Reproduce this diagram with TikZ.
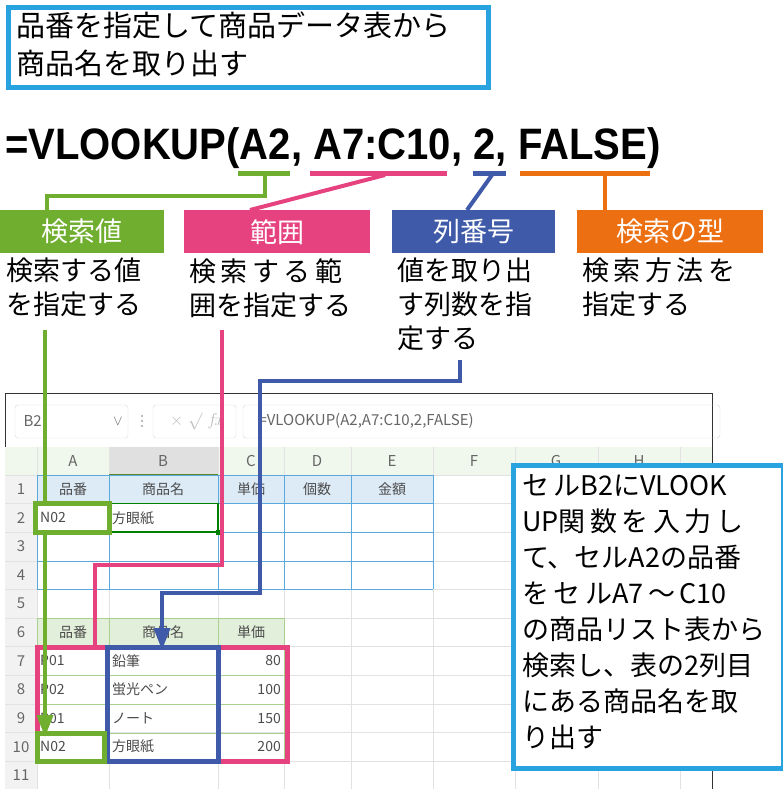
\documentclass[tikz,border=0pt]{standalone}
\usepackage{fontspec}
\setmainfont{Noto Sans CJK JP}
\newfontfamily\formulafont{Liberation Sans}
\usetikzlibrary{arrows.meta,positioning}
\definecolor{kgreen}{HTML}{6FAE2E}
\definecolor{kpink}{HTML}{E5427F}
\definecolor{knavy}{HTML}{3F5AA8}
\definecolor{korange}{HTML}{EC7012}
\definecolor{ksky}{HTML}{29A3E0}
\definecolor{kgrid}{HTML}{E2E2E2}
\definecolor{khead}{HTML}{DDEBF7}
\definecolor{kheadg}{HTML}{E2EFDA}
\definecolor{ktblue}{HTML}{5BA8DD}
\definecolor{ktgreen}{HTML}{A9D08E}
\tikzset{
  labelbox/.style={fill=#1, text=white, font=\fontsize{27}{27}\selectfont, inner sep=0pt},
  desc/.style={anchor=north west, align=left, inner sep=0pt, font=\fontsize{27}{34}\selectfont},
  cell/.style={font=\fontsize{14}{14}\selectfont, text=black!70, inner sep=2pt},
  hcell/.style={font=\fontsize{15}{15}\selectfont, text=black!60},
  hlbox/.style={draw=#1, line width=5pt},
  lead/.style={draw=#1, line width=4pt},
  tip/.style={-{Triangle[width=16pt,length=22pt]}},
}
\begin{document}
\begin{tikzpicture}[x=1pt,y=-1pt]
\useasboundingbox (0,0) rectangle (783,789);

% title
\draw[ksky, line width=5pt, fill=white] (8,8) rectangle (488,88);
\node[desc, font=\fontsize{29}{38}\selectfont] (title) at (16,12) {品番を指定して商品データ表から\\商品名を取り出す};

% formula
\node[anchor=west, inner sep=0pt] (formula) at (5,148)
  {\scalebox{0.91}[1]{\formulafont\bfseries\fontsize{44}{44}\selectfont =VLOOKUP(A2, A7:C10, 2, FALSE)}};
\draw[kgreen, line width=5pt] (238,173) -- (290,173);
\draw[kpink, line width=5pt] (310,173) -- (447,173);
\draw[knavy, line width=5pt] (473,173) -- (506,173);
\draw[korange, line width=5pt] (520,173) -- (650,173);

% labels
\node[labelbox=kgreen, minimum width=164pt, minimum height=43pt, anchor=north west] (lkey) at (0,210) {検索値};
\node[labelbox=kpink, minimum width=186pt, minimum height=43pt, anchor=north west] (lrange) at (184,210) {範囲};
\node[labelbox=knavy, minimum width=163pt, minimum height=43pt, anchor=north west] (lcol) at (392,210) {列番号};
\node[labelbox=korange, minimum width=186pt, minimum height=43pt, anchor=north west] (ltype) at (577,210) {検索の型};
\draw[kgreen, line width=4pt] (265,173) -- (265,196) -- (47,196) -- (47,210);
\draw[kpink, line width=4pt] (385,175) -- (250,210);
\draw[knavy, line width=4pt] (492,175) -- (467,210);
\draw[korange, line width=4pt] (605,173) -- (605,210);

\node[desc] (dkey) at (6,258) {検索する値\\を指定する};
\node[desc] (drange) at (189,258) {検\,索\,す\,る\,範\\囲を指定する};
\node[desc] (dcol) at (397,258) {値を取り出\\す列数を指\\定する};
\node[desc] (dtype) at (582,258) {検\,索\,方\,法\,を\\指定する};

% spreadsheet
\draw[black!80, line width=1pt, fill=white] (5,393) rectangle (712,789);
\draw[black!15, rounded corners=3pt] (15,405) rectangle (128,438);
\draw[black!15, rounded corners=3pt] (153,405) rectangle (236,438);
\draw[black!15, rounded corners=3pt] (243,405) rectangle (720,438);
\node[hcell, anchor=west] (namebox) at (20,421) {B2};
\node[hcell] (chev) at (118,421) {$\vee$};
\foreach \y in {416,421,426} \fill[black!35] (142,\y) circle (1.2pt);
\node[hcell, text=black!25, font=\fontsize{18}{18}\selectfont] (fx) at (197,421) {$\times\;\surd\;f\!x$};
\node[hcell, anchor=west] (fbar) at (255,421) {=VLOOKUP(A2,A7:C10,2,FALSE)};
% grid
\fill[kheadg!50] (5,447) rectangle (712,475);
\fill[black!5] (5,475) rectangle (37,789);
\fill[black!12] (109,447) rectangle (218,475);
\foreach \y in {475,503.6,...,790} \draw[kgrid] (5,\y) -- (712,\y);
\foreach \x in {37,109,218,284,351,433,515,598,680} \draw[kgrid] (\x,447) -- (\x,789);
\draw[kgreen!80!black, line width=1.5pt] (109,475) -- (218,475);
\fill[khead] (37,475) rectangle (433,503.6);
\fill[kheadg] (37,618) rectangle (284,647);
\foreach \y in {475,503.6,532.2,560.8,589.4} \draw[ktblue] (37,\y) -- (433,\y);
\foreach \x in {37,109,218,284,351,433} \draw[ktblue] (\x,475) -- (\x,589.4);
\foreach \y in {618,647,675.6,704.2,732.8,761.4} \draw[ktgreen] (37,\y) -- (284,\y);
\foreach \x in {37,109,218,284} \draw[ktgreen] (\x,618) -- (\x,761.4);
\draw[green!50!black, line width=1.5pt] (109,503.6) rectangle (218,532.2);
\fill[green!50!black] (216,530) rectangle (221,535);
\foreach \c/\x in {A/73,B/163,C/251,D/317,E/392,F/474,G/556,H/639}
  \node[hcell] (col\c) at (\x,461) {\c};
\foreach \r in {1,...,11}
  \node[hcell] (row\r) at (21,{489.3+(\r-1)*28.6}) {\r};
\foreach \c/\x/\t in {A/73/品番,B/163/商品名,C/251/単価,D/317/個数,E/392/金額}
  \node[cell] (h1\c) at (\x,489.3) {\t};
\foreach \c/\x/\t in {A/73/品番,B/163/商品名,C/251/単価}
  \node[cell] (h6\c) at (\x,632.3) {\t};
\node[cell, anchor=west] (a2) at (38,517.9) {N02};
\node[cell, anchor=west] (b2) at (110,517.9) {方眼紙};
\foreach \r/\a/\b/\p in {7/P01/鉛筆/80,8/P02/蛍光ペン/100,9/P01/ノート/150,10/N02/方眼紙/200} {
  \node[cell, anchor=west] (a\r) at (38,{489.3+(\r-1)*28.6}) {\a};
  \node[cell, anchor=west] (b\r) at (110,{489.3+(\r-1)*28.6}) {\b};
  \node[cell, anchor=east] (c\r) at (283,{489.3+(\r-1)*28.6}) {\p};
}

% highlights
\draw[hlbox=kpink] (37,647) rectangle (287,761);
\draw[hlbox=knavy] (107,647) rectangle (218,761);
\draw[hlbox=kgreen] (35,503) rectangle (109,532);
\draw[hlbox=kgreen] (37,733) rectangle (104,761);
\draw[lead=kgreen] (45,330) -- (45,503);
\draw[lead=kgreen, tip] (45,532) -- (45,737);
\draw[lead=kpink] (222,330) -- (222,565) -- (95,565) -- (95,647);
\draw[lead=knavy, tip] (460,360) -- (460,381) -- (260,381) -- (260,593) -- (162,593) -- (162,650);

% note
\draw[ksky, line width=5pt, fill=white] (513,465) rectangle (783,768);
\node[desc, font=\fontsize{27}{36}\selectfont] (note) at (522,474)
  {セ\,ルB2にVLOOK\\UP関\,数\,を\,入\,力\,し\\て、セルA2の品番\\を\,セ\,ルA7\,～\,C10\\の商品リスト表から\\検索し、表の2列目\\にある商品名を取\\り出す};
\end{tikzpicture}
\end{document}
